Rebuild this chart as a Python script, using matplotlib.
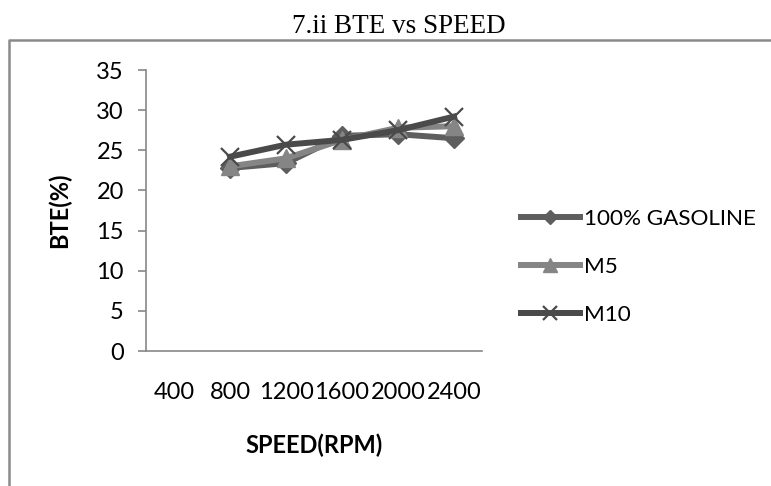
import numpy as np
import matplotlib.pyplot as plt
from matplotlib.lines import Line2D

# data
speeds = ['400', '800', '1200', '1600', '2000', '2400']
x_data = [1, 2, 3, 4, 5]   # 400 rpm has no points
gasoline = [22.8, 23.4, 26.8, 27.0, 26.5]
m5 = [23.0, 24.0, 26.3, 27.8, 28.0]
m10 = [24.2, 25.7, 26.3, 27.5, 29.2]

W, H = 771, 486
fig = plt.figure(figsize=(W / 100, H / 100), dpi=100)
sans = ['Lato', 'DejaVu Sans']

ax = fig.add_axes([146 / W, 1 - 351 / H, (482 - 146) / W, (351 - 70) / H])

ax.plot(x_data, gasoline, color='#5e5e5e', lw=4.3, marker='D', ms=10,
        label='100% GASOLINE', solid_joinstyle='round')
ax.plot(x_data, m5, color='#858585', lw=4.3, marker='^', ms=13,
        label='M5', solid_joinstyle='round')
ax.plot(x_data, m10, color='#4a4a4a', lw=4.3, marker='x', ms=13, mew=1.6,
        label='M10', solid_joinstyle='round')

ax.set_xlim(-0.5, 5.5)
ax.set_ylim(0, 35)
ax.set_yticks(np.arange(0, 36, 5))
ax.set_xticks(range(len(speeds)))
ax.set_xticklabels(speeds)
for s in ['top', 'right']:
    ax.spines[s].set_visible(False)
for s in ['left', 'bottom']:
    ax.spines[s].set_color('#888888')
    ax.spines[s].set_linewidth(1.2)
ax.tick_params(axis='y', length=6, width=1.2, color='#888888', pad=10)
ax.tick_params(axis='x', length=0, pad=22)
for lab in ax.get_xticklabels() + ax.get_yticklabels():
    lab.set_family(sans)
    lab.set_fontsize(17)

ax.set_xlabel('SPEED(RPM)', family=sans, fontsize=17, fontweight='bold', labelpad=22)
ax.set_ylabel('BTE(%)', family=sans, fontsize=17, fontweight='bold', labelpad=18)

fig.legend(loc='center left', bbox_to_anchor=(521 / W, 1 - 267 / H), frameon=False,
           prop={'family': sans, 'size': 16.2}, handlelength=2.6, handletextpad=0.2,
           labelspacing=1.25, borderaxespad=0, borderpad=0, markerscale=0.75)

fig.text(399 / W, 1 - 33 / H, '7.ii BTE vs SPEED', family='Liberation Serif',
         fontsize=19.5, ha='center', va='baseline')

# outer chart border (only top and left visible)
fig.add_artist(Line2D([8.5 / W, 8.5 / W, 1], [0, 1 - 40 / H, 1 - 40 / H],
                      transform=fig.transFigure, color='#8a8a8a', lw=1.8))

fig.savefig('out.png', dpi=100)
